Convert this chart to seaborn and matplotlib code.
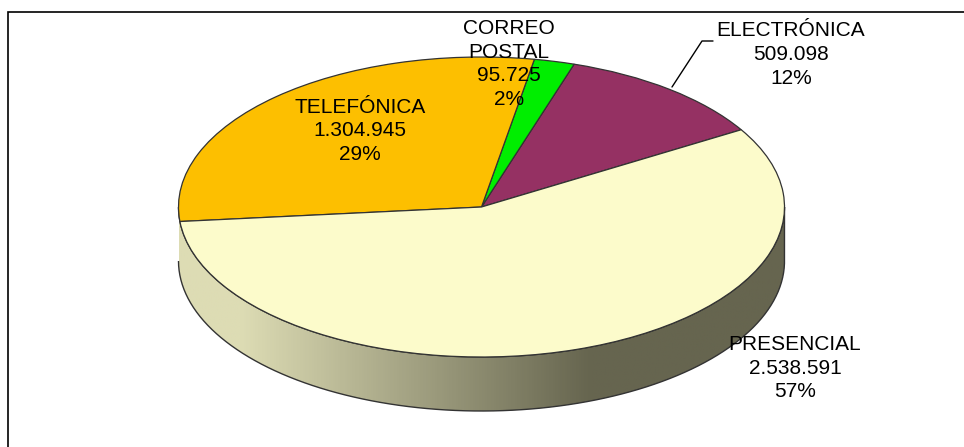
# -*- coding: utf-8 -*-
import numpy as np
import matplotlib
matplotlib.use("Agg")
import matplotlib.pyplot as plt
from matplotlib.colors import LinearSegmentedColormap
from matplotlib.patches import PathPatch
from matplotlib.path import Path
import seaborn as sns

# datos del grafico (orden antihorario desde la frontera con PRESENCIAL)
canales = ["ELECTRÓNICA", "CORREO\nPOSTAL", "TELEFÓNICA", "PRESENCIAL"]
valores = [509098, 95725, 1304945, 2538591]
valores_txt = ["509.098", "95.725", "1.304.945", "2.538.591"]
porcentajes = ["12%", "2%", "29%", "57%"]
colores = ["#953163", "#00EE00", "#FDBF00", "#FCFBCB"]

sns.set_theme(style="white")
plt.rcParams["font.family"] = ["Liberation Sans", "DejaVu Sans"]

W, H = 964, 447
cx, cy, rx, ry, alto = 481.5, 207, 303, 150, 54

fig = plt.figure(figsize=(W / 100, H / 100), dpi=100)
ax = fig.add_axes([0, 0, 1, 1])
ax.set_xlim(0, W)
ax.set_ylim(H, 0)
ax.axis("off")

# marco: solo se ven el borde superior y el izquierdo
ax.plot([8, 8, W], [H, 11.5, 11.5], color="black", lw=1.2, solid_joinstyle="miter")

# pared lateral con degradado
t = np.linspace(np.pi, 2 * np.pi, 200)
x_b = cx + rx * np.cos(t)
y_b = cy - ry * np.sin(t)
xs = np.concatenate([x_b, x_b[::-1]])
ys = np.concatenate([y_b, y_b[::-1] + alto])
pared = Path(np.column_stack([xs, ys]))
cmap = LinearSegmentedColormap.from_list(
    "pared", [(0, "#DDDCB4"), (0.1, "#DDDCB4"), (0.68, "#66654F"), (1, "#66654F")]
)
grad = np.linspace(0, 1, 400).reshape(1, -1)
img = ax.imshow(grad, extent=[cx - rx, cx + rx, cy + ry + alto, cy - alto], cmap=cmap, aspect="auto", zorder=1)
parche = PathPatch(pared, fc="none", ec="#333333", lw=1.0, zorder=2)
ax.add_patch(parche)
img.set_clip_path(parche)
ax.set_xlim(0, W)
ax.set_ylim(H, 0)

# tapa: pie normal aplastado en unos ejes elipticos
m = 1.02
ax_pie = fig.add_axes([(cx - rx * m) / W, 1 - (cy + ry * m) / H, 2 * rx * m / W, 2 * ry * m / H], zorder=3)
ax_pie.pie(valores, colors=colores, startangle=31, counterclock=True,
           wedgeprops={"edgecolor": "#333333", "linewidth": 0.9})
ax_pie.set_xlim(-m, m)
ax_pie.set_ylim(-m, m)
ax_pie.set_aspect("auto")

# capa de textos encima de todo
ax_txt = fig.add_axes([0, 0, 1, 1], zorder=4)
ax_txt.set_xlim(0, W)
ax_txt.set_ylim(H, 0)
ax_txt.axis("off")
ax_txt.patch.set_alpha(0)

pos_txt = [(791, 54.5), (509, 64), (360, 131), (795, 368)]
for nombre, v, p, (x, y) in zip(canales, valores_txt, porcentajes, pos_txt):
    ax_txt.text(x, y, f"{nombre}\n{v}\n{p}", ha="center", va="center", fontsize=15,
                color="black", linespacing=1.31)

# linea guia de ELECTRONICA
ax_txt.plot([672, 702, 713], [87, 41, 41], color="black", lw=1.0)

fig.savefig("out.png", dpi=100)
